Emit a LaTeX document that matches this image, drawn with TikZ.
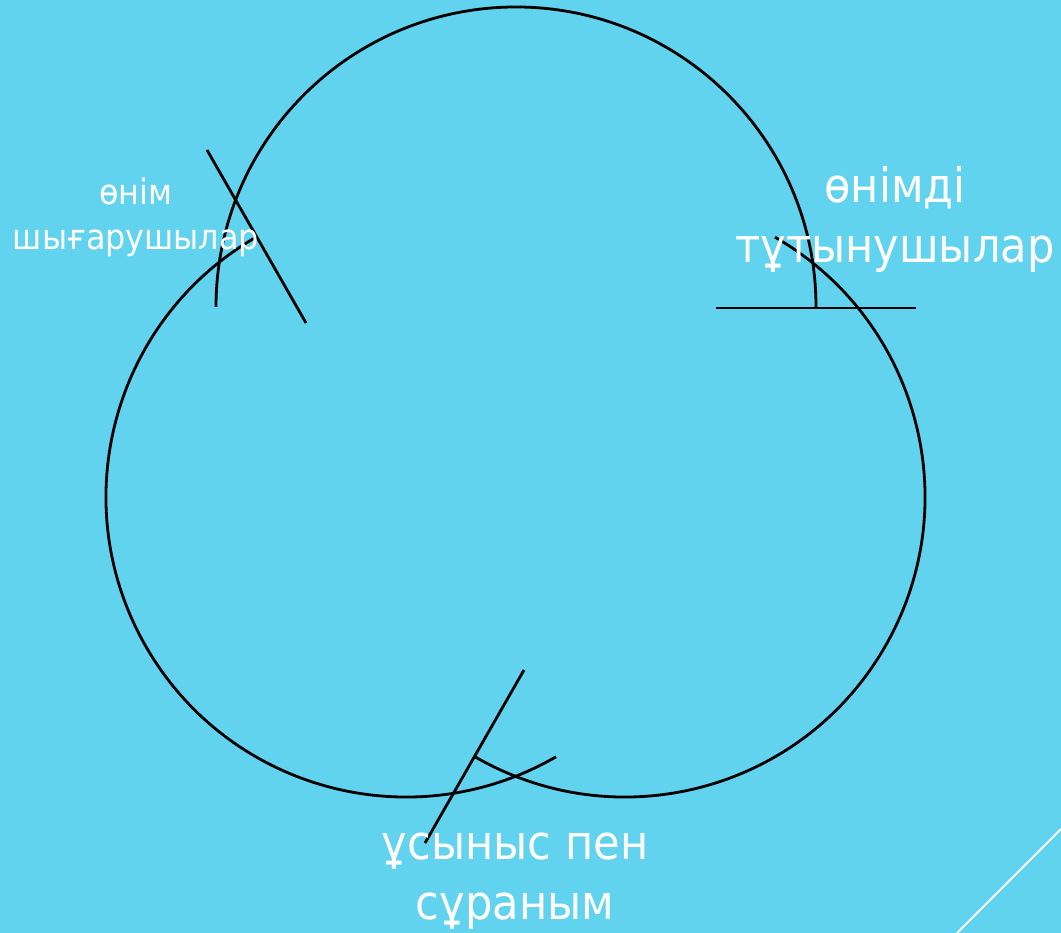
\documentclass[tikz,border=0pt]{standalone}
\usepackage{fontspec}
\setmainfont{DejaVu Sans}
\newfontfamily\kzfont[FakeStretch=0.91]{DejaVu Sans}
\usepackage{tikz}
\usetikzlibrary{positioning,calc}
\definecolor{skycyan}{RGB}{98,211,238}
\colorlet{strokecolor}{black}

\begin{document}
\begin{tikzpicture}[x=1pt, y=1pt,
  ring/.style={line width=2.8pt, color=strokecolor},
  cut/.style={line width=2.8pt, color=strokecolor},
  caption/.style={text=white, align=center, inner sep=0pt, anchor=base},
  bigcap/.style={caption, font=\kzfont\fontsize{47.5}{60}\selectfont},
  smallcap/.style={caption, font=\kzfont\fontsize{35}{45}\selectfont}
]

\useasboundingbox (0,0) rectangle (1061,933);
\fill[skycyan] (0,0) rectangle (1061,933);

% centres of the three circles
\coordinate (ctop) at (516,626);
\coordinate (cleft) at (406,436);
\coordinate (cright) at (625,436);

\draw[ring] ([shift={(180:300)}]ctop) arc (180:0:300);
\draw[ring] ([shift={(120:300)}]cleft) arc (120:300:300);
\draw[ring] ([shift={(60:300)}]cright) arc (60:-120:300);

% cuts across the joints
\coordinate (la) at (207,783);
\coordinate (lb) at (306,610);
\coordinate (ra) at (716,625);
\coordinate (rb) at (916,625);
\coordinate (ba) at (524,263);
\coordinate (bb) at (425,90);
\draw[cut] (la) -- (lb);
\draw[cut] (ra) -- (rb);
\draw[cut] (ba) -- (bb);

\node[smallcap] (producers) at (136,683) {өнім\\шығарушылар};
\node[bigcap] (consumers) at (895,670) {өнімді\\тұтынушылар};
\node[bigcap] (market) at (515,13) {ұсыныс пен\\сұраным};

% corner decoration
\coordinate (da) at (957,0);
\coordinate (db) at (1061,104);
\draw[white, line width=1.8pt] (da) -- (db);
\end{tikzpicture}
\end{document}
